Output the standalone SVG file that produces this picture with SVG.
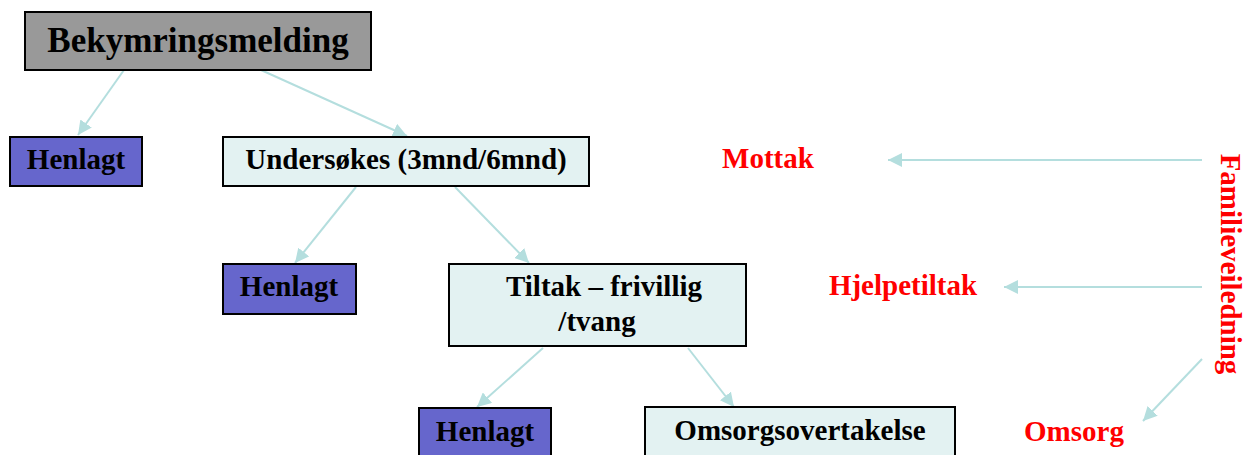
<svg xmlns="http://www.w3.org/2000/svg" width="1250" height="455" viewBox="0 0 1250 455">
<defs>
<marker id="ah" viewBox="0 0 10 10" refX="10" refY="5" markerWidth="7" markerHeight="7" markerUnits="strokeWidth" orient="auto">
<path d="M0,0 L10,5 L0,10 z" fill="#B4DEDE"/>
</marker>
<style>
.box{stroke:#000;stroke-width:2}
.t{font-family:"Liberation Serif","Times New Roman",serif;font-weight:bold;font-size:29px;fill:#000;text-anchor:middle}
.r{font-family:"Liberation Serif","Times New Roman",serif;font-weight:bold;font-size:29px;fill:#FF0000;text-anchor:middle}
.c{stroke:#B4DEDE;stroke-width:2;fill:none;marker-end:url(#ah)}
</style>
</defs>
<rect width="1250" height="455" fill="#fff"/>
<g id="connectors">
<line class="c" x1="124" y1="70" x2="78" y2="135"/>
<line class="c" x1="261" y1="70" x2="407" y2="136"/>
<line class="c" x1="356" y1="187" x2="295" y2="263"/>
<line class="c" x1="455" y1="187" x2="529" y2="263"/>
<line class="c" x1="543" y1="348" x2="477" y2="407"/>
<line class="c" x1="688" y1="348" x2="734" y2="407"/>
<line class="c" x1="1202" y1="160" x2="888" y2="160"/>
<line class="c" x1="1202" y1="287" x2="1004" y2="287"/>
<line class="c" x1="1202" y1="359" x2="1143" y2="421"/>
</g>
<g id="bekymringsmelding">
<rect class="box" x="25" y="12" width="346" height="58" fill="#999999"/>
<text class="t" x="198" y="52" style="font-size:35px">Bekymringsmelding</text>
</g>
<g id="henlagt1">
<rect class="box" x="10" y="137" width="132" height="49" fill="#6666CC"/>
<text class="t" x="76" y="169">Henlagt</text>
</g>
<g id="undersokes">
<rect class="box" x="223" y="137" width="366" height="49" fill="#E3F2F2"/>
<text class="t" x="406" y="169">Undersøkes (3mnd/6mnd)</text>
</g>
<g id="henlagt2">
<rect class="box" x="223" y="264" width="133" height="50" fill="#6666CC"/>
<text class="t" x="289" y="296">Henlagt</text>
</g>
<g id="tiltak">
<rect class="box" x="449" y="264" width="297" height="82" fill="#E3F2F2"/>
<text class="t" x="604" y="296">Tiltak – frivillig</text>
<text class="t" x="597" y="331">/tvang</text>
</g>
<g id="henlagt3">
<rect class="box" x="419" y="408" width="132" height="60" fill="#6666CC"/>
<text class="t" x="485" y="441">Henlagt</text>
</g>
<g id="omsorgsovertakelse">
<rect class="box" x="645" y="407" width="310" height="60" fill="#E3F2F2"/>
<text class="t" x="800" y="440">Omsorgsovertakelse</text>
</g>
<g id="mottak"><text class="r" x="768" y="168">Mottak</text></g>
<g id="hjelpetiltak"><text class="r" x="903" y="295">Hjelpetiltak</text></g>
<g id="omsorg"><text class="r" x="1074" y="441">Omsorg</text></g>
<g id="familieveiledning"><text class="r" transform="translate(1221,264) rotate(90)">Familieveiledning</text></g>
</svg>
